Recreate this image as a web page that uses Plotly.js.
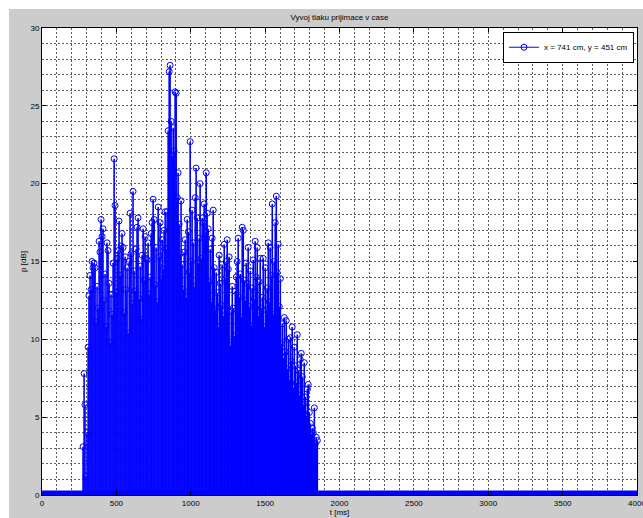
<!DOCTYPE html>
<html>
<head>
<meta charset="utf-8">
<script src="https://cdn.plot.ly/plotly-3.0.1.min.js"></script>
<style>
  html, body { margin: 0; padding: 0; background: #ffffff; width: 643px; height: 518px; overflow: hidden; }
  #chart { position: absolute; left: 9px; top: 9px; width: 634px; height: 509px; }
</style>
</head>
<body>
<div id="chart"></div>
<script>
// Receiver pressure over time: stem samples (time in ms, level in dB)
const stemTimes = [
  276, 283, 289, 296, 303, 310, 316, 323, 330, 336,
  343, 350, 357, 363, 370, 377, 384, 390, 397, 404,
  410, 417, 424, 431, 437, 444, 451, 458, 464, 471,
  478, 485, 491, 498, 505, 511, 518, 525, 532, 538,
  545, 552, 559, 565, 572, 579, 586, 592, 599, 606,
  612, 619, 626, 633, 639, 646, 653, 660, 666, 673,
  680, 686, 693, 700, 707, 713, 720, 727, 734, 740,
  747, 754, 760, 767, 774, 781, 787, 794, 801, 808,
  814, 821, 828, 834, 841, 848, 855, 861, 868, 875,
  882, 888, 895, 902, 909, 915, 922, 929, 935, 942,
  949, 956, 962, 969, 976, 983, 989, 996, 1003, 1009,
  1016, 1023, 1030, 1036, 1043, 1050, 1057, 1063, 1070, 1077,
  1083, 1090, 1097, 1104, 1110, 1117, 1124, 1131, 1137, 1144,
  1151, 1158, 1164, 1171, 1178, 1184, 1191, 1198, 1205, 1211,
  1218, 1225, 1232, 1238, 1245, 1252, 1258, 1265, 1272, 1279,
  1285, 1292, 1299, 1306, 1312, 1319, 1326, 1333, 1339, 1346,
  1353, 1359, 1366, 1373, 1380, 1386, 1393, 1400, 1407, 1413,
  1420, 1427, 1433, 1440, 1447, 1454, 1460, 1467, 1474, 1481,
  1487, 1494, 1501, 1507, 1514, 1521, 1528, 1534, 1541, 1548,
  1555, 1561, 1568, 1575, 1581, 1588, 1595, 1602, 1608, 1615,
  1622, 1629, 1635, 1642, 1649, 1656, 1662, 1669, 1676, 1682,
  1689, 1696, 1703, 1709, 1716, 1723, 1730, 1736, 1743, 1750,
  1757, 1763, 1770, 1777, 1784, 1790, 1797, 1804, 1810, 1817,
  1824, 1831, 1837, 1844, 1851
];
const stemLevels = [
  3.1, 7.8, 5.8, 1.2, 4.0, 9.5, 12.8, 14.1, 13.2, 15.0,
  14.6, 14.9, 14.6, 11.1, 13.4, 12.0, 16.3, 15.6, 17.7, 16.6,
  17.1, 12.5, 14.2, 10.8, 16.2, 15.7, 13.6, 9.8, 12.9, 11.6,
  14.9, 21.6, 18.6, 13.0, 15.2, 15.7, 17.6, 14.1, 16.0, 16.8,
  15.9, 11.7, 15.3, 13.2, 14.6, 10.4, 15.0, 18.1, 15.5, 12.3,
  19.5, 14.4, 13.1, 15.8, 17.2, 17.8, 12.6, 14.7, 11.3, 15.4,
  17.1, 13.8, 16.6, 15.2, 15.1, 16.2, 12.9, 14.0, 16.8, 17.5,
  19.0, 17.7, 13.5, 15.9, 12.4, 18.5, 15.3, 17.5, 13.9, 16.4,
  14.5, 17.0, 18.2, 15.8, 18.2, 23.4, 27.2, 27.6, 24.0, 21.8,
  23.6, 22.1, 25.9, 25.8, 19.1, 20.7, 17.4, 15.5, 18.9, 14.8,
  13.2, 15.6, 16.4, 12.7, 17.7, 16.9, 14.3, 22.7, 15.0, 18.3,
  16.2, 13.4, 19.1, 21.0, 17.8, 14.9, 16.5, 20.0, 15.2, 17.8,
  17.5, 18.7, 16.8, 20.7, 18.1, 17.1, 13.7, 15.8, 12.4, 16.5,
  18.3, 14.6, 11.9, 14.3, 13.0, 10.8, 15.4, 13.6, 12.2, 14.8,
  11.5, 16.1, 13.9, 15.0, 16.4, 14.5, 15.3, 9.6, 11.8, 13.4,
  12.0, 10.2, 13.1, 14.0, 15.0, 16.5, 12.7, 14.2, 11.4, 17.2,
  17.0, 13.8, 12.5, 14.9, 13.6, 15.9, 12.1, 14.4, 10.9, 13.3,
  15.1, 12.6, 16.3, 14.0, 15.9, 11.5, 13.7, 15.2, 12.0, 12.7,
  15.2, 10.8, 14.6, 11.9, 13.3, 16.2, 12.4, 15.9, 14.1, 18.7,
  11.6, 15.0, 17.5, 19.2, 14.3, 16.1, 12.1, 13.9, 9.7, 11.0,
  8.8, 11.4, 9.2, 11.2, 8.1, 10.0, 7.4, 10.1, 8.6, 10.8,
  6.9, 9.5, 8.3, 7.2, 10.3, 8.0, 6.4, 8.7, 9.1, 7.6,
  5.8, 8.5, 6.3, 5.1, 6.8, 7.1, 5.3, 4.6, 3.9, 4.3,
  4.0, 5.6, 3.3, 3.7, 3.5
];
// zero-level samples cover the whole recorded interval
const zeroTimes = [0, 4000];
const zeroLevels = [0, 0];

const titleText = 'Vyvoj tlaku prijimace v case';
const xTitle = 't [ms]';
const yTitle = 'p [dB]';
const legendName = 'x = 741 cm, y = 451 cm';

const BLUE = '#0000ff';

// build stems (vertical segments from 0 to the level)
const sx = [], sy = [];
for (let i = 0; i < stemTimes.length; i++) {
  sx.push(stemTimes[i], stemTimes[i], null);
  sy.push(0, stemLevels[i], null);
}

const traces = [
  { x: zeroTimes, y: zeroLevels, mode: 'lines', line: { color: BLUE, width: 9 },
    showlegend: false, hoverinfo: 'skip' },
  { x: sx, y: sy, mode: 'lines', line: { color: BLUE, width: 1.6 },
    showlegend: false, hoverinfo: 'skip' },
  { x: stemTimes, y: stemLevels, mode: 'markers',
    marker: { symbol: 'circle-open', size: 6, color: BLUE, line: { width: 1, color: BLUE } },
    showlegend: false },
  { x: [null], y: [null], mode: 'lines+markers', name: legendName,
    line: { color: BLUE, width: 1 },
    marker: { symbol: 'circle-open', size: 6, color: BLUE, line: { width: 1, color: BLUE } } }
];

const gridStyle = { gridcolor: '#5a5a5a', griddash: '2px,2px', gridwidth: 1 };
const FONT = 'Liberation Sans, Arial, sans-serif';

const layout = {
  width: 634, height: 509,
  paper_bgcolor: '#cccccc',
  plot_bgcolor: '#ffffff',
  margin: { l: 33, r: 6, t: 19, b: 23, pad: 0 },
  font: { family: FONT, size: 8, color: '#000000' },
  title: { text: titleText, font: { family: FONT, size: 8, color: '#000' },
           x: 0.5, xref: 'paper', y: 1 - 8 / 509, yref: 'container', yanchor: 'middle' },
  xaxis: {
    range: [0, 4000], dtick: 500, tick0: 0,
    showline: true, linecolor: '#000', linewidth: 1, mirror: 'ticks',
    ticks: 'inside', ticklen: 4, tickcolor: '#000',
    showgrid: true, ...gridStyle, zeroline: false,
    minor: { dtick: 100, showgrid: true, ...gridStyle, ticks: '' },
    ticklabeloverflow: 'allow',
    tickfont: { family: FONT, size: 8 },
    title: { text: xTitle, font: { family: FONT, size: 8 }, standoff: 2 }
  },
  yaxis: {
    range: [0, 30], dtick: 5, tick0: 0,
    showline: true, linecolor: '#000', linewidth: 1, mirror: 'ticks',
    ticks: 'inside', ticklen: 4, tickcolor: '#000',
    showgrid: true, ...gridStyle, zeroline: false,
    minor: { dtick: 1, showgrid: true, ...gridStyle, ticks: '' },
    tickfont: { family: FONT, size: 8 },
    title: { text: yTitle, font: { family: FONT, size: 8 }, standoff: 2 }
  },
  showlegend: true,
  legend: {
    x: 0.995, y: 0.992, xanchor: 'right', yanchor: 'top',
    bgcolor: '#ffffff', bordercolor: '#000000', borderwidth: 1,
    font: { family: FONT, size: 8 }, itemwidth: 30,
    tracegroupgap: 0
  }
};

Plotly.newPlot('chart', traces, layout, { staticPlot: true, displayModeBar: false });
</script>
</body>
</html>
